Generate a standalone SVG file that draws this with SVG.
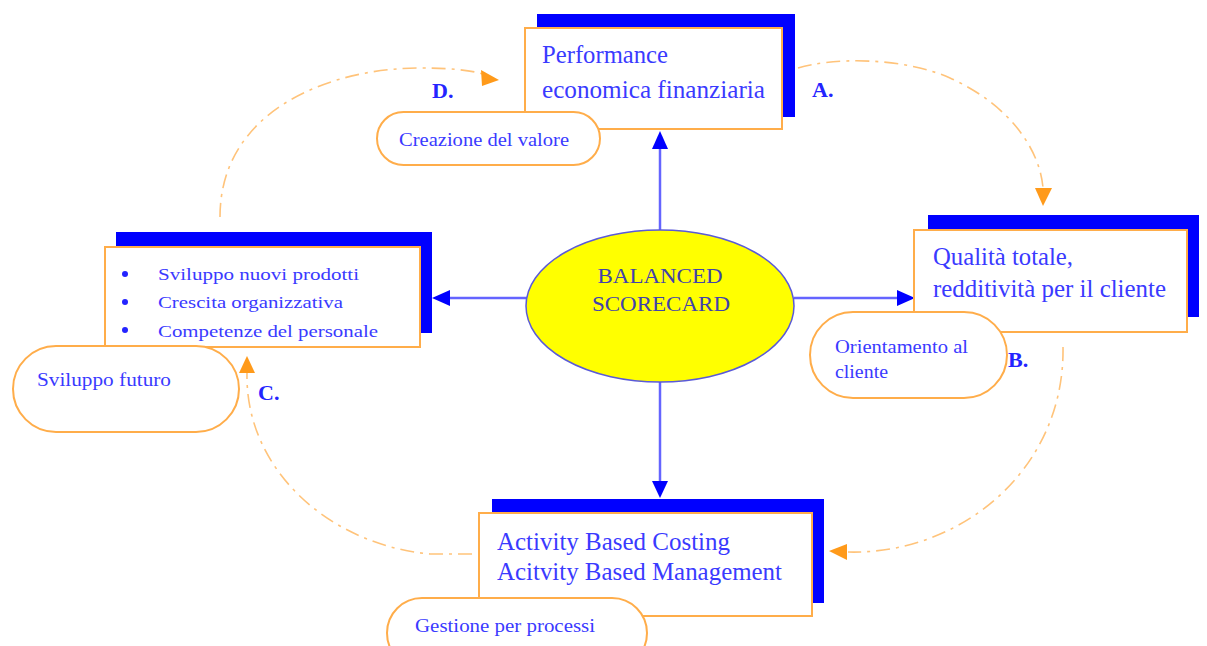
<svg xmlns="http://www.w3.org/2000/svg" width="1207" height="646" viewBox="0 0 1207 646">
<style>
.shadow{fill:#0000ff}
.box{fill:#fff;stroke:#ffad4a;stroke-width:2}
.pill{fill:#fff;stroke:#ffad4a;stroke-width:2}
.t{font-family:"Liberation Serif",serif;fill:#3a3aff}
.big{font-size:25px}
.sm{font-size:18px}
.lbl{font-family:"Liberation Serif",serif;font-weight:bold;font-size:22px;fill:#2424ff}
.conn{stroke:#6464ff;stroke-width:2.5;fill:none}
.cycle{stroke:#ffc37a;stroke-width:1.6;fill:none;stroke-dasharray:14 6 3 6}
</style>
<rect width="1207" height="646" fill="#fff"/>

<g id="cycle">
<path class="cycle" d="M220 217 C 220 110 330 68 420 68 C 460 68 480 72 488 76"/>
<path d="M481 70 L499 80 L482 86 z" fill="#ff9a1a"/>
<path class="cycle" d="M798 68 C 830 58 900 56 950 78 C 1010 105 1040 150 1043 188"/>
<path d="M1035 188 L1052 188 L1043 206 z" fill="#ff9a1a"/>
<path class="cycle" d="M1063 347 C 1065 470 960 555 848 552"/>
<path d="M847 544 L847 560 L829 551 z" fill="#ff9a1a"/>
<path class="cycle" d="M472 554 L 430 554 C 330 545 245 470 247 373"/>
<path d="M239 373 L255 373 L247 356 z" fill="#ff9a1a"/>
</g>

<g id="connectors">
<line class="conn" x1="660" y1="230" x2="660" y2="148"/>
<path d="M652 149 L668 149 L660 131 z" fill="#0000ff"/>
<line class="conn" x1="794" y1="298" x2="898" y2="298"/>
<path d="M897 290 L897 306 L915 298 z" fill="#0000ff"/>
<line class="conn" x1="660" y1="382" x2="660" y2="481"/>
<path d="M652 481 L668 481 L660 498 z" fill="#0000ff"/>
<line class="conn" x1="527" y1="298" x2="449" y2="298"/>
<path d="M450 290 L450 306 L432 298 z" fill="#0000ff"/>
</g>

<g id="center">
<ellipse cx="660" cy="306" rx="134" ry="76" fill="#ffff00" stroke="#5a5ad8" stroke-width="1.5"/>
<text class="t" x="660" y="283" text-anchor="middle" font-size="22" style="fill:#4242ac" textLength="125" lengthAdjust="spacingAndGlyphs">BALANCED</text>
<text class="t" x="661" y="311" text-anchor="middle" font-size="22" style="fill:#4242ac" textLength="138" lengthAdjust="spacingAndGlyphs">SCORECARD</text>
</g>

<g id="node-top">
<rect class="shadow" x="537" y="14" width="258" height="103"/>
<rect class="box" x="525" y="28" width="257" height="101"/>
<text class="t big" x="542" y="63" textLength="126" lengthAdjust="spacingAndGlyphs">Performance</text>
<text class="t big" x="542" y="98" textLength="223" lengthAdjust="spacingAndGlyphs">economica finanziaria</text>
<rect class="pill" x="377" y="112" width="223" height="53" rx="26.5"/>
<text class="t sm" x="399" y="146" textLength="170" lengthAdjust="spacingAndGlyphs">Creazione del valore</text>
<text class="lbl" x="432" y="98">D.</text>
<text class="lbl" x="812" y="97">A.</text>
</g>

<g id="node-right">
<rect class="shadow" x="928" y="215" width="271" height="102"/>
<rect class="box" x="914" y="230" width="273" height="102"/>
<text class="t big" x="933" y="265" textLength="140" lengthAdjust="spacingAndGlyphs">Qualità totale,</text>
<text class="t big" x="933" y="297" textLength="233" lengthAdjust="spacingAndGlyphs">redditività per il cliente</text>
<rect class="pill" x="810" y="312" width="197" height="86" rx="43"/>
<text class="t sm" x="835" y="353" textLength="133" lengthAdjust="spacingAndGlyphs">Orientamento al</text>
<text class="t sm" x="835" y="378" textLength="53" lengthAdjust="spacingAndGlyphs">cliente</text>
<text class="lbl" x="1008" y="367">B.</text>
</g>

<g id="node-bottom">
<rect class="shadow" x="492" y="499" width="332" height="104"/>
<rect class="box" x="479" y="513" width="333" height="103"/>
<text class="t big" x="497" y="550" textLength="233" lengthAdjust="spacingAndGlyphs">Activity Based Costing</text>
<text class="t big" x="497" y="580" textLength="285" lengthAdjust="spacingAndGlyphs">Acitvity Based Management</text>
<rect class="pill" x="387" y="598" width="260" height="70" rx="35"/>
<text class="t sm" x="415" y="632" textLength="180" lengthAdjust="spacingAndGlyphs">Gestione per processi</text>
</g>

<g id="node-left">
<rect class="shadow" x="116" y="232" width="316" height="101"/>
<rect class="box" x="105" y="247" width="315" height="100"/>
<circle cx="125" cy="274" r="3" fill="#2424ff"/>
<circle cx="125" cy="302" r="3" fill="#2424ff"/>
<circle cx="125" cy="330" r="3" fill="#2424ff"/>
<text class="t" font-size="17" x="158" y="280" textLength="201" lengthAdjust="spacingAndGlyphs">Sviluppo nuovi prodotti</text>
<text class="t" font-size="17" x="158" y="308" textLength="185" lengthAdjust="spacingAndGlyphs">Crescita organizzativa</text>
<text class="t" font-size="17" x="158" y="337" textLength="220" lengthAdjust="spacingAndGlyphs">Competenze del personale</text>
<rect class="pill" x="13" y="346" width="226" height="86" rx="43"/>
<text class="t sm" x="37" y="386" textLength="134" lengthAdjust="spacingAndGlyphs">Sviluppo futuro</text>
<text class="lbl" x="258" y="400">C.</text>
</g>
</svg>
